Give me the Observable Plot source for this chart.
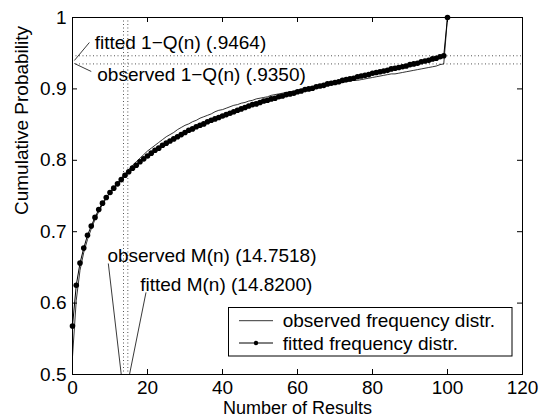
<!DOCTYPE html>
<html>
<head>
<meta charset="utf-8">
<script src="https://cdn.jsdelivr.net/npm/d3@7"></script>
<script src="https://cdn.jsdelivr.net/npm/@observablehq/plot@0.6"></script>
<style>
  html, body { margin: 0; padding: 0; background: #fff; }
  #chart { position: relative; width: 541px; height: 418px; }
  svg { font-family: "Liberation Sans", Arial, Helvetica, sans-serif; }
</style>
</head>
<body>
<div id="chart"></div>
<script>
// fitted frequency distribution (cumulative), n = 0..100
const fitted = [
  0.568,0.625,0.656,0.677,0.695,0.708,0.720,0.731,0.740,0.748,
  0.755,0.761,0.767,0.773,0.779,0.784,0.789,0.793,0.798,0.802,
  0.806,0.810,0.814,0.817,0.821,0.824,0.827,0.830,0.833,0.836,
  0.839,0.842,0.844,0.847,0.849,0.851,0.854,0.856,0.858,0.860,
  0.862,0.864,0.866,0.868,0.870,0.872,0.874,0.876,0.878,0.879,
  0.881,0.883,0.884,0.886,0.887,0.889,0.890,0.892,0.893,0.894,
  0.896,0.897,0.899,0.900,0.901,0.903,0.904,0.905,0.907,0.908,
  0.909,0.910,0.912,0.913,0.914,0.915,0.917,0.918,0.919,0.920,
  0.922,0.923,0.924,0.925,0.926,0.928,0.929,0.930,0.931,0.932,
  0.934,0.935,0.936,0.938,0.939,0.940,0.942,0.943,0.945,0.9464,
  1.0
];
// observed frequency distribution (cumulative), n = 0..100
const observed = [
  0.525,0.604,0.646,0.671,0.689,0.704,0.717,0.728,0.738,0.747,
  0.755,0.762,0.768,0.775,0.781,0.787,0.793,0.798,0.803,0.808,
  0.813,0.817,0.821,0.825,0.829,0.833,0.836,0.839,0.843,0.846,
  0.849,0.851,0.854,0.856,0.859,0.861,0.863,0.865,0.868,0.870,
  0.871,0.873,0.875,0.877,0.878,0.880,0.881,0.883,0.884,0.886,
  0.887,0.888,0.889,0.891,0.892,0.893,0.894,0.895,0.896,0.897,
  0.898,0.899,0.900,0.900,0.901,0.902,0.903,0.904,0.905,0.906,
  0.907,0.908,0.909,0.910,0.911,0.912,0.912,0.913,0.914,0.915,
  0.916,0.917,0.918,0.919,0.920,0.921,0.921,0.922,0.923,0.924,
  0.925,0.926,0.927,0.928,0.929,0.930,0.931,0.932,0.934,0.935,
  1.0
];
// reference levels
const qLevels = [0.9464, 0.9350];      // fitted / observed 1-Q(n)
const mLevels = [13.6, 14.75];         // vertical dotted lines (M(n))
// tick values / labels
const xTicks = [0, 20, 40, 60, 80, 100, 120];
const xTickLabels = ["0", "20", "40", "60", "80", "100", "120"];
const yTicks = [0.5, 0.6, 0.7, 0.8, 0.9, 1];
const yTickLabels = ["0.5", "0.6", "0.7", "0.8", "0.9", "1"];
// annotations
const annText = [
  {x: 5.9, y: 0.9643, label: "fitted 1\u2212Q(n) (.9464)"},
  {x: 6.6, y: 0.9190, label: "observed 1\u2212Q(n) (.9350)"},
  {x: 9.3, y: 0.6660, label: "observed M(n) (14.7518)"},
  {x: 18.05, y: 0.6260, label: "fitted M(n) (14.8200)"}
];
const annLinks = [
  {x1: 4.5, y1: 0.9650, x2: 0.5, y2: 0.9398},
  {x1: 0.5, y1: 0.9356, x2: 5.0, y2: 0.9244},
  {x1: 9.55, y1: 0.6555, x2: 13.0, y2: 0.5},
  {x1: 19.6, y1: 0.6150, x2: 15.2, y2: 0.5}
];
const legendLabels = ["observed frequency distr.", "fitted frequency distr."];

const W = 541, H = 418;
const mL = 72, mR = 19, mT = 17, mB = 44;
const innerH = H - mT - mB, innerW = W - mL - mR;
const fs = 19;
const FONT = "'Liberation Sans', Arial, Helvetica, sans-serif";

const plot = Plot.plot({
  width: W, height: H,
  marginLeft: mL, marginRight: mR, marginTop: mT, marginBottom: mB,
  style: {fontSize: fs + "px", fontFamily: FONT, color: "black", background: "white", overflow: "visible"},
  x: {domain: [0, 120], ticks: xTicks},
  y: {domain: [0.5, 1], ticks: yTicks},
  marks: [
    // dotted reference lines
    Plot.ruleY(qLevels, {stroke: "#555", strokeWidth: 1, strokeDasharray: "1,2.5"}),
    Plot.ruleX(mLevels, {stroke: "#555", strokeWidth: 1, strokeDasharray: "1,2.5"}),
    // curves
    Plot.line(observed, {x: (d, i) => i, y: d => d, stroke: "black", strokeWidth: 0.8}),
    Plot.line(fitted, {x: (d, i) => i, y: d => d, stroke: "black", strokeWidth: 1}),
    Plot.dot(fitted, {x: (d, i) => i, y: d => d, r: 2.8, fill: "black", stroke: "none"}),
    // annotation pointers and texts
    Plot.link(annLinks, {x1: "x1", y1: "y1", x2: "x2", y2: "y2", stroke: "#222", strokeWidth: 0.9}),
    Plot.text(annText, {x: "x", y: "y", text: "label", textAnchor: "start", fill: "black", fontSize: fs}),
    // frame
    Plot.frame({stroke: "black", strokeWidth: 1}),
    // inward ticks (bottom, top, left, right)
    Plot.tickX(xTicks, {x: d => d, insetTop: innerH - 5, stroke: "black"}),
    Plot.tickX(xTicks, {x: d => d, insetBottom: innerH - 5, stroke: "black"}),
    Plot.tickY(yTicks, {y: d => d, insetRight: innerW - 5, stroke: "black"}),
    Plot.tickY(yTicks, {y: d => d, insetLeft: innerW - 5, stroke: "black"}),
    // axes (labels only)
    Plot.axisX(xTicks, {tickSize: 0, tickPadding: 6, fontSize: fs, tickFormat: (d, i) => xTickLabels[i], label: null}),
    Plot.axisY(yTicks, {tickSize: 0, tickPadding: 6, fontSize: fs, tickFormat: (d, i) => yTickLabels[i], label: null}),
    Plot.text(["Number of Results"], {frameAnchor: "bottom", dy: 34, lineAnchor: "middle", text: d => d, fontSize: 18, fill: "black"}),
    Plot.text(["Cumulative Probability"], {frameAnchor: "left", dx: -51, dy: 19, rotate: -90, text: d => d, fontSize: fs, fill: "black"})
  ]
});
document.getElementById("chart").appendChild(plot);

// legend box inside the plot area
const svg = d3.select(plot);
const lg = svg.append("g")
  .attr("font-size", fs + "px")
  .attr("font-family", FONT)
  .attr("text-anchor", "start");
lg.append("rect").attr("x", 228.5).attr("y", 307.5).attr("width", 283.5).attr("height", 48.5)
  .attr("fill", "white").attr("stroke", "black").attr("stroke-width", 1);
const rows = [320.7, 343];
legendLabels.forEach((lab, i) => {
  const y = rows[i];
  lg.append("line").attr("x1", 239).attr("x2", 273).attr("y1", y).attr("y2", y)
    .attr("stroke", "black").attr("stroke-width", i === 0 ? 0.8 : 1);
  if (i === 1) lg.append("circle").attr("cx", 256).attr("cy", y).attr("r", 2.2).attr("fill", "black");
  lg.append("text").attr("x", 282.7).attr("y", y).attr("dy", "0.35em")
    .attr("text-anchor", "start").attr("fill", "black").text(lab);
});
</script>
</body>
</html>
